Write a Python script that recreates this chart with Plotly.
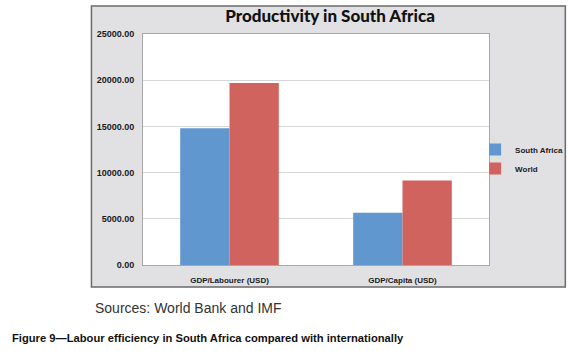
import plotly.graph_objects as go

categories = ["GDP/Labourer (USD)", "GDP/Capita (USD)"]
south_africa = [14800, 5650]
world = [19700, 9150]
y_ticks = [0, 5000, 10000, 15000, 20000, 25000]

W, H = 580, 351
L, R, T, B = 143, 492, 34, 265  # plot area in pixels


def xp(px):
    return (px - L) / (R - L)


def yp(py):
    return (B - py) / (B - T)


BOLD = dict(family="Liberation Sans, Arial, sans-serif", weight="bold", color="#1a1a1a")

fig = go.Figure()
fig.add_trace(go.Bar(name="South Africa", x=categories, y=south_africa,
                     marker=dict(color="#6097cf", line=dict(width=0))))
fig.add_trace(go.Bar(name="World", x=categories, y=world,
                     marker=dict(color="#d0635d", line=dict(width=0))))

fig.update_layout(
    width=W, height=H,
    margin=dict(l=L, r=W - R, t=T, b=H - B, pad=0),
    paper_bgcolor="white",
    plot_bgcolor="white",
    barmode="group",
    bargap=0.43,
    bargroupgap=0,
    title=dict(text="Productivity in South Africa", xref="container", yref="container",
               x=330 / W, y=1 - 16 / H, xanchor="center", yanchor="middle",
               font=dict(family="Lato, Liberation Sans, Arial, sans-serif", weight=900,
                         size=17, color="#111")),
    legend=dict(x=xp(478), y=yp(135), xanchor="left", yanchor="top",
                bgcolor="rgba(0,0,0,0)", font=dict(size=8, **BOLD),
                itemwidth=30, tracegroupgap=0),
    showlegend=True,
    xaxis=dict(showgrid=False, showline=True, linecolor="#a8a8a8", linewidth=1,
               mirror=True, ticks="", tickfont=dict(size=8, **BOLD),
               ticklabelstandoff=7),
    yaxis=dict(range=[0, 25000], tickvals=y_ticks, tickformat=".2f",
               showgrid=True, gridcolor="#d6d6d6", gridwidth=1,
               showline=True, linecolor="#a8a8a8", linewidth=1, mirror=True,
               zeroline=False, ticks="", tickfont=dict(size=9, **BOLD),
               ticklabelstandoff=6),
    shapes=[
        dict(type="rect", xref="paper", yref="paper", layer="below",
             x0=xp(91), x1=xp(569), y0=yp(287), y1=yp(6),
             fillcolor="#e1e1e3", line=dict(color="#6a6a6a", width=1.5)),
        dict(type="rect", xref="paper", yref="paper", layer="below",
             x0=0, x1=1, y0=0, y1=1, fillcolor="white", line=dict(width=0)),
    ],
    annotations=[
        dict(text="Sources: World Bank and IMF", xref="paper", yref="paper",
             x=xp(93), y=yp(308), xanchor="left", yanchor="middle", showarrow=False,
             font=dict(family="Liberation Sans, Arial, sans-serif", size=14, color="#333")),
        dict(text="Figure 9\u2014Labour efficiency in South Africa compared with internationally",
             xref="paper", yref="paper", x=xp(9), y=yp(338), xanchor="left",
             yanchor="middle", showarrow=False,
             font=dict(family="Liberation Sans, Arial, sans-serif",
                       weight="bold", size=11.2, color="#111")),
    ],
)

fig.write_html("out.html", config={"displayModeBar": False},
               post_script="document.body.style.margin='0';document.body.style.padding='0';")
